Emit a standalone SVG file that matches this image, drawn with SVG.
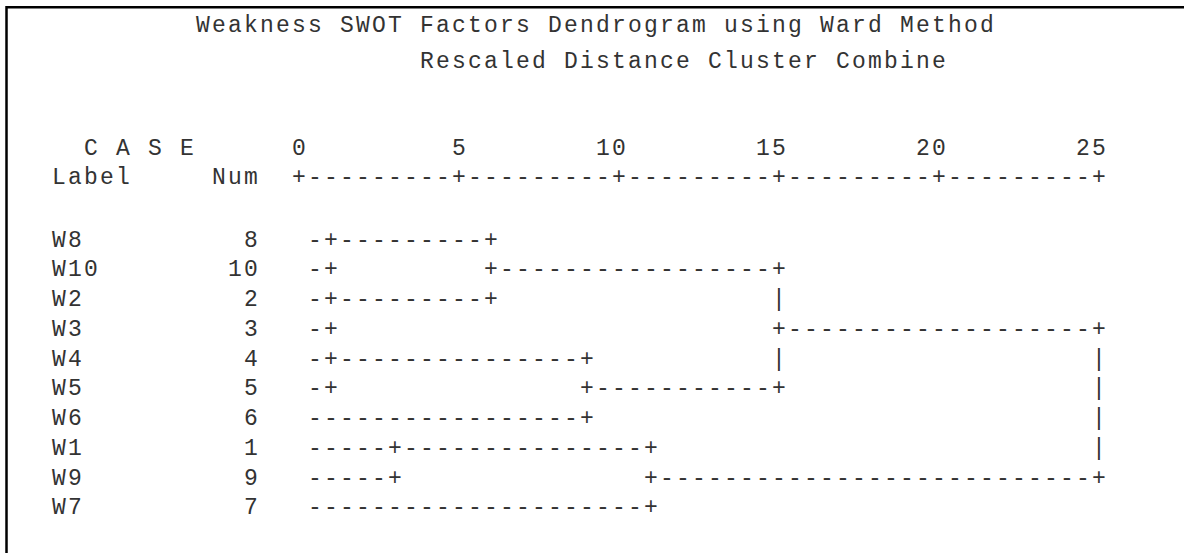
<svg xmlns="http://www.w3.org/2000/svg" width="1184" height="553" viewBox="0 0 1184 553">
<style>
text{font-family:"Liberation Mono","Courier New",monospace;font-size:23px;letter-spacing:2.2px;fill:#333}
.frame{fill:none;stroke:#000;stroke-width:2.5}
</style>
<rect x="0" y="0" width="1184" height="553" fill="#fff"/>
<path class="frame" d="M6.5,553 V7.2 H1184"/>
<g id="header">
<text x="196" y="32">Weakness SWOT Factors Dendrogram using Ward Method</text>
<text x="420" y="68">Rescaled Distance Cluster Combine</text>
<text x="84" y="155">C A S E</text>
<text x="292" y="155">0</text>
<text x="452" y="155">5</text>
<text x="596" y="155">10</text>
<text x="756" y="155">15</text>
<text x="916" y="155">20</text>
<text x="1076" y="155">25</text>
<text x="52" y="184">Label</text>
<text x="212" y="184">Num</text>
<text x="292" y="184">+---------+---------+---------+---------+---------+</text>
</g>
<g id="case-W8"><text x="52" y="246.5">W8</text><text x="244" y="246.5">8</text></g>
<g id="case-W10"><text x="52" y="276.25">W10</text><text x="228" y="276.25">10</text></g>
<g id="case-W2"><text x="52" y="306">W2</text><text x="244" y="306">2</text></g>
<g id="case-W3"><text x="52" y="335.75">W3</text><text x="244" y="335.75">3</text></g>
<g id="case-W4"><text x="52" y="365.5">W4</text><text x="244" y="365.5">4</text></g>
<g id="case-W5"><text x="52" y="395.25">W5</text><text x="244" y="395.25">5</text></g>
<g id="case-W6"><text x="52" y="425">W6</text><text x="244" y="425">6</text></g>
<g id="case-W1"><text x="52" y="454.75">W1</text><text x="244" y="454.75">1</text></g>
<g id="case-W9"><text x="52" y="484.5">W9</text><text x="244" y="484.5">9</text></g>
<g id="case-W7"><text x="52" y="514.25">W7</text><text x="244" y="514.25">7</text></g>
<g id="connectors">
<text x="308" y="246.5">-+---------+</text>
<text x="308" y="276.25">-+</text><text x="484" y="276.25">+-----------------+</text>
<text x="308" y="306">-+---------+</text><text x="772" y="306">|</text>
<text x="308" y="335.75">-+</text><text x="772" y="335.75">+-------------------+</text>
<text x="308" y="365.5">-+---------------+</text><text x="772" y="365.5">|</text><text x="1092" y="365.5">|</text>
<text x="308" y="395.25">-+</text><text x="580" y="395.25">+-----------+</text><text x="1092" y="395.25">|</text>
<text x="308" y="425">-----------------+</text><text x="1092" y="425">|</text>
<text x="308" y="454.75">-----+---------------+</text><text x="1092" y="454.75">|</text>
<text x="308" y="484.5">-----+</text><text x="644" y="484.5">+---------------------------+</text>
<text x="308" y="514.25">---------------------+</text>
</g>
</svg>
